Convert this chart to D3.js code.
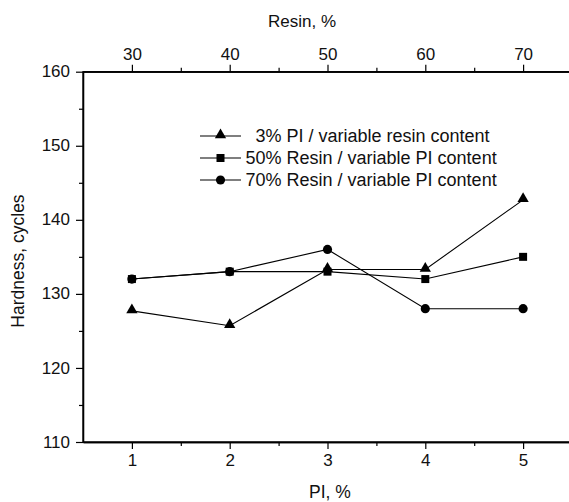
<!DOCTYPE html>
<html><head><meta charset="utf-8">
<script src="https://cdn.jsdelivr.net/npm/d3@7"></script>
<style>body{margin:0;background:#fff}svg{display:block;font-family:"Liberation Sans",Arial,sans-serif}</style>
</head><body><svg id="c" width="569" height="502"></svg>
<script>
const piValues = [1, 2, 3, 4, 5];
const resinTicks = [30, 40, 50, 60, 70];
const yTicks = [110, 120, 130, 140, 150, 160];
const seriesNames = ["  3% PI / variable resin content", "50% Resin / variable PI content", "70% Resin / variable PI content"];
const triangleVals = [127.7, 125.7, 133.3, 133.3, 142.7];
const squareVals = [132, 133, 133, 132, 135];
const circleVals = [132, 133, 136, 128, 128];
const xTitle = "PI, %", topTitle = "Resin, %", yTitle = "Hardness, cycles";

(function () {
const svg = d3.select("#c");
const L = 83, R = 572, T = 71.7, B = 442;
const x = d3.scaleLinear().domain([0.5, 5.5]).range([L, R]);
const xTop = d3.scaleLinear().domain([25, 75]).range([L, R]);
const y = d3.scaleLinear().domain([110, 160]).range([B, T]);

const gBottom = svg.append("g").attr("transform", `translate(0,${B})`)
  .call(d3.axisBottom(x).tickValues(piValues).tickFormat(d3.format("d")).tickSize(7).tickSizeOuter(0));
svg.append("g").attr("transform", `translate(0,${B})`)
  .call(d3.axisBottom(x).tickValues(d3.range(1.5, 5.5, 1)).tickFormat("").tickSize(4).tickSizeOuter(0));
const gTop = svg.append("g").attr("transform", `translate(0,${T})`)
  .call(d3.axisTop(xTop).tickValues(resinTicks).tickFormat(d3.format("d")).tickSize(7).tickSizeOuter(0));
svg.append("g").attr("transform", `translate(0,${T})`)
  .call(d3.axisTop(xTop).tickValues(d3.range(35, 75, 10)).tickFormat("").tickSize(4).tickSizeOuter(0));
const gLeft = svg.append("g").attr("transform", `translate(${L},0)`)
  .call(d3.axisLeft(y).tickValues(yTicks).tickFormat(d3.format("d")).tickSize(7).tickSizeOuter(0));
svg.append("g").attr("transform", `translate(${L},0)`)
  .call(d3.axisLeft(y).tickValues(d3.range(115, 160, 10)).tickFormat("").tickSize(4).tickSizeOuter(0));

svg.selectAll(".domain").attr("stroke", "#000").attr("stroke-width", 1.3);
svg.selectAll(".tick line").attr("stroke", "#000").attr("stroke-width", 1.2);
svg.selectAll(".tick text").attr("fill", "#111").attr("font-size", 17)
  .attr("font-family", "Liberation Sans, Arial, sans-serif");
gBottom.selectAll(".tick text").attr("y", 12);
gTop.selectAll(".tick text").attr("y", -12);
gLeft.selectAll(".tick text").attr("x", -13).attr("dy", "0.3em");

svg.append("rect").attr("x", L).attr("y", T).attr("width", R - L).attr("height", B - T)
  .attr("fill", "none").attr("stroke", "#000").attr("stroke-width", 1.3);

svg.append("text").attr("x", 330).attr("y", 498).attr("text-anchor", "middle").attr("font-size", 17.5).attr("fill", "#111").text(xTitle);
svg.append("text").attr("x", 302).attr("y", 26.5).attr("text-anchor", "middle").attr("font-size", 17).attr("fill", "#111").text(topTitle);
svg.append("text").attr("transform", "translate(23.5,261) rotate(-90)").attr("text-anchor", "middle").attr("font-size", 17.5).attr("fill", "#111").text(yTitle);

const sym = {
  tri: d3.symbol().type(d3.symbolTriangle).size(55),
  sq: d3.symbol().type(d3.symbolSquare).size(64),
  cir: d3.symbol().type(d3.symbolCircle).size(66)
};
const line = d3.line().x((d, i) => x(piValues[i])).y(d => y(d));
function drawSeries(vals, s) {
  const g = svg.append("g");
  g.append("path").attr("d", line(vals)).attr("fill", "none").attr("stroke", "#000").attr("stroke-width", 1.1);
  g.selectAll("path.m").data(vals).join("path").attr("class", "m")
    .attr("transform", (d, i) => `translate(${x(piValues[i])},${y(d) + (s === "tri" ? -1 : 0)})`)
    .attr("d", sym[s]()).attr("fill", "#000");
}
drawSeries(squareVals, "sq");
drawSeries(circleVals, "cir");
drawSeries(triangleVals, "tri");

const legKeys = ["tri", "sq", "cir"];
const leg = svg.append("g");
seriesNames.forEach((name, i) => {
  const yy = 136 + i * 22;
  leg.append("line").attr("x1", 200).attr("x2", 241).attr("y1", yy).attr("y2", yy).attr("stroke", "#000").attr("stroke-width", 1.1);
  leg.append("path").attr("transform", `translate(220.5,${yy + (legKeys[i] === "tri" ? -1 : 0)})`).attr("d", sym[legKeys[i]]()).attr("fill", "#000");
  leg.append("text").attr("x", 245.5).attr("y", yy).attr("dy", "0.36em").attr("font-size", 18).attr("fill", "#111")
    .style("white-space", "pre").attr("xml:space", "preserve").text(name);
});
})();
</script></body></html>
